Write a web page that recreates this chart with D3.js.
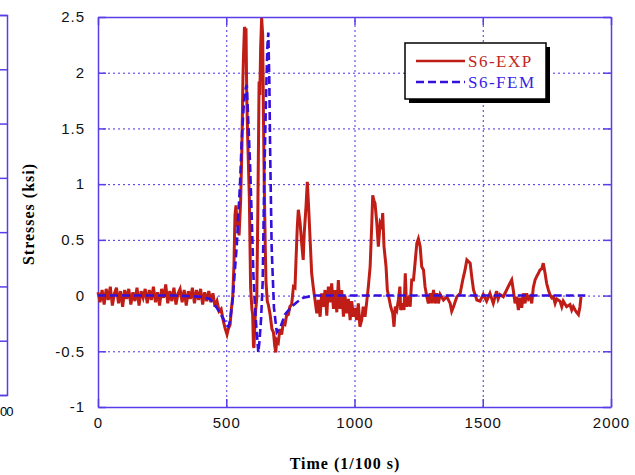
<!DOCTYPE html>
<html>
<head>
<meta charset="utf-8">
<script src="https://cdn.jsdelivr.net/npm/d3@7"></script>
<style>
  body { margin: 0; background: #fff; }
  svg { display: block; }
  .tick text { font-family: "Liberation Sans", Arial, sans-serif; font-size: 15px; letter-spacing: 1px; fill: #111; }
</style>
</head>
<body>
<svg id="chart" width="635" height="475"></svg>
<script>
// series: [time (1/100 s), stress (ksi)]
const expPoints = [
  [0,0.03],[8,-0.06],[16,0.05],[24,-0.08],[32,0.06],[40,-0.04],[48,0.08],[56,-0.09],[64,0.02],[72,0.07],
  [80,-0.07],[88,0.04],[96,-0.10],[104,0.05],[112,-0.03],[120,0.06],[128,-0.08],[136,0.03],[144,-0.05],[152,0.07],
  [160,-0.09],[168,0.04],[176,-0.02],[184,0.06],[192,-0.07],[200,0.05],[208,-0.04],[216,0.08],[224,-0.06],[232,0.03],
  [240,-0.09],[248,0.06],[256,-0.02],[264,0.10],[272,-0.07],[280,0.04],[288,-0.05],[296,0.07],[304,-0.08],[312,0.02],
  [320,0.06],[328,-0.06],[336,0.05],[344,-0.09],[352,0.04],[360,-0.03],[368,0.07],[376,-0.07],[384,0.05],[392,-0.04],
  [400,0.06],[408,-0.08],[416,0.03],[424,-0.05],[432,0.04],[440,-0.06],[448,0.02],[456,-0.10],[464,-0.05],[472,-0.14],
  [480,-0.12],[488,-0.22],[495,-0.29],[503,-0.35],[508,-0.30],[515,-0.26],[520,-0.12],[525,-0.02],[530,0.27],[534,0.72],
  [538,0.81],[542,0.62],[546,0.66],[550,0.54],[556,0.84],[561,1.32],[565,1.95],[567,2.13],[571,2.41],[575,2.38],
  [577,2.40],[580,1.77],[584,1.38],[590,0.88],[595,0.07],[600,-0.12],[603,-0.17],[606,-0.45],[608,-0.47],[611,-0.30],
  [613,-0.18],[619,-0.02],[623,0.72],[628,1.92],[631,1.80],[634,2.22],[638,2.49],[642,2.34],[645,1.62],[648,1.02],
  [652,0.45],[655,0.12],[660,-0.05],[664,-0.08],[671,-0.17],[678,-0.30],[684,-0.33],[689,-0.45],[693,-0.51],[697,-0.40],
  [703,-0.42],[709,-0.30],[716,-0.35],[722,-0.25],[729,-0.26],[735,-0.18],[742,-0.17],[748,-0.10],[755,-0.08],[762,0.08],
  [768,0.07],[772,0.32],[777,0.62],[781,0.77],[788,0.65],[794,0.47],[800,0.32],[804,0.56],[811,0.80],[816,1.02],
  [821,0.80],[827,0.50],[833,0.20],[839,0.08],[846,-0.04],[853,-0.16],[859,-0.04],[866,-0.19],[872,0.02],[879,-0.10],
  [885,0.05],[892,-0.18],[898,0.08],[905,-0.06],[911,0.11],[918,-0.12],[924,0.05],[931,-0.15],[937,0.14],[944,-0.12],
  [950,0.05],[957,-0.19],[963,0.00],[970,-0.16],[976,-0.03],[983,-0.22],[989,-0.05],[996,-0.19],[1002,-0.11],[1008,-0.22],
  [1015,-0.07],[1021,-0.28],[1028,-0.22],[1034,-0.10],[1041,-0.19],[1047,-0.07],[1054,0.08],[1061,0.26],[1067,0.62],[1071,0.90],
  [1076,0.85],[1080,0.83],[1087,0.65],[1093,0.44],[1100,0.65],[1106,0.62],[1110,0.74],[1115,0.44],[1123,0.26],[1128,0.05],
  [1136,-0.04],[1141,-0.10],[1149,-0.16],[1154,-0.28],[1159,-0.10],[1165,-0.13],[1171,-0.04],[1177,0.08],[1180,-0.13],[1188,-0.07],
  [1193,-0.13],[1198,0.20],[1203,-0.10],[1210,-0.04],[1217,-0.10],[1223,0.14],[1230,0.14],[1236,0.29],[1243,0.47],[1249,0.51],
  [1256,0.44],[1262,0.26],[1269,0.23],[1275,0.08],[1282,-0.01],[1288,-0.07],[1295,0.02],[1301,-0.07],[1308,0.05],[1314,-0.07],
  [1321,0.02],[1327,-0.07],[1334,0.01],[1347,-0.04],[1360,-0.01],[1373,-0.07],[1379,-0.14],[1386,-0.10],[1399,-0.01],[1412,0.02],
  [1422,0.14],[1431,0.23],[1438,0.32],[1451,0.29],[1457,0.17],[1464,0.05],[1470,0.01],[1477,-0.04],[1489,-0.05],[1502,0.01],
  [1515,-0.05],[1528,0.02],[1541,-0.07],[1554,0.04],[1560,-0.03],[1567,0.01],[1580,-0.01],[1593,0.05],[1606,0.11],[1613,0.14],
  [1619,0.05],[1626,-0.07],[1632,-0.01],[1639,-0.13],[1645,-0.02],[1652,-0.11],[1658,0.02],[1665,-0.07],[1671,0.02],[1678,-0.03],
  [1684,-0.01],[1691,-0.07],[1697,0.07],[1704,0.14],[1710,0.17],[1717,0.20],[1723,0.23],[1730,0.24],[1736,0.29],[1743,0.20],
  [1749,0.11],[1756,0.05],[1762,0.01],[1769,-0.02],[1775,-0.01],[1782,-0.07],[1788,-0.03],[1801,-0.05],[1808,-0.10],[1814,-0.05],
  [1827,-0.10],[1840,-0.08],[1847,-0.13],[1853,-0.10],[1860,-0.13],[1866,-0.15],[1873,-0.17],[1879,-0.10],[1883,-0.01]
];

const femPoints = [
  [0,0],[100,0],[200,0],[300,0],[400,-0.01],[437,-0.03],[463,-0.11],[489,-0.21],[502,-0.27],[509,-0.28],
  [515,-0.22],[522,-0.10],[528,0.05],[541,0.45],[554,1.02],[560,1.38],[569,1.74],[576,1.86],[580,1.89],[586,1.56],
  [593,1.17],[599,0.72],[606,0.18],[612,-0.10],[616,-0.24],[625,-0.51],[630,-0.40],[636,-0.20],[642,0.12],[648,1.02],
  [655,1.77],[660,2.22],[664,2.36],[668,1.92],[671,1.32],[677,0.43],[686,-0.11],[697,-0.33],[710,-0.29],[729,-0.17],
  [755,-0.10],[775,-0.06],[800,-0.02],[840,0],[1000,0],[1500,0],[1900,0]
];

const xTicks = [0, 500, 1000, 1500, 2000];
const yTicks = [-1, -0.5, 0, 0.5, 1, 1.5, 2, 2.5];
const seriesNames = ["S6-EXP", "S6-FEM"];

const frameColor = "#5a3de8";
const gridColor = "#4a2ee6";
const expColor = "#c01d16";
const femColor = "#3510dc";

const svg = d3.select("#chart");
const mLeft = 98, mRight = 611, mTop = 17, mBottom = 407;

const x = d3.scaleLinear().domain([0, 2000]).range([mLeft, mRight]);
const y = d3.scaleLinear().domain([-1, 2.5]).range([mBottom, mTop]);

// cropped neighbour chart on the far left edge
const yn = d3.scaleLinear().domain([0, 7]).range([395, 15]);
svg.append("g")
  .attr("transform", "translate(7,0)")
  .call(d3.axisLeft(yn).ticks(7).tickSize(8).tickFormat(""))
  .call(g => g.selectAll("path, line").attr("stroke", frameColor).attr("stroke-width", 1.5));
svg.append("text")
  .attr("x", 0).attr("y", 416)
  .style("font-family", "Liberation Sans, Arial, sans-serif")
  .style("font-size", "13px")
  .style("letter-spacing", "-1px")
  .text("00");

// dotted grid
svg.append("g")
  .attr("transform", `translate(0,${mBottom})`)
  .call(d3.axisBottom(x).tickValues(xTicks.slice(1, -1)).tickSize(-(mBottom - mTop)).tickFormat(""))
  .call(g => g.select(".domain").remove())
  .call(g => g.selectAll("line").attr("stroke", gridColor).attr("stroke-dasharray", "2,3"));
svg.append("g")
  .attr("transform", `translate(${mLeft},0)`)
  .call(d3.axisLeft(y).tickValues(yTicks.slice(1, -1)).tickSize(-(mRight - mLeft)).tickFormat(""))
  .call(g => g.select(".domain").remove())
  .call(g => g.selectAll("line").attr("stroke", gridColor).attr("stroke-dasharray", "2,3"));

// axes with inward ticks
const styleAxis = g => g.selectAll("path, line").attr("stroke", frameColor).attr("stroke-width", 1.5);
svg.append("g")
  .attr("transform", `translate(0,${mBottom})`)
  .call(d3.axisBottom(x).tickValues(xTicks).tickSize(-8).tickSizeOuter(0).tickPadding(10).tickFormat(d => String(d)))
  .call(styleAxis);
svg.append("g")
  .attr("transform", `translate(${mLeft},0)`)
  .call(d3.axisLeft(y).tickValues(yTicks).tickSize(-8).tickSizeOuter(0).tickPadding(13).tickFormat(d => String(d)))
  .call(styleAxis);
svg.append("g")
  .attr("transform", `translate(0,${mTop})`)
  .call(d3.axisTop(x).tickValues(xTicks).tickSize(-8).tickSizeOuter(0).tickFormat(""))
  .call(styleAxis);
svg.append("g")
  .attr("transform", `translate(${mRight},0)`)
  .call(d3.axisRight(y).tickValues(yTicks).tickSize(-8).tickSizeOuter(0).tickFormat(""))
  .call(styleAxis);

// series
const line = d3.line().x(d => x(d[0])).y(d => y(d[1]));
svg.append("path")
  .datum(expPoints)
  .attr("fill", "none")
  .attr("stroke", expColor)
  .attr("stroke-width", 3)
  .attr("stroke-linejoin", "miter")
  .attr("d", line);
svg.append("path")
  .datum(femPoints)
  .attr("fill", "none")
  .attr("stroke", femColor)
  .attr("stroke-width", 2.6)
  .attr("stroke-dasharray", "8,4")
  .attr("d", line);

// axis titles
svg.append("text")
  .attr("x", 345).attr("y", 469)
  .attr("text-anchor", "middle")
  .style("font-family", "Liberation Serif, Times New Roman, serif")
  .style("font-weight", "bold")
  .style("font-size", "16px")
  .style("letter-spacing", "1px")
  .text("Time (1/100 s)");
svg.append("text")
  .attr("transform", "translate(34,214) rotate(-90)")
  .attr("text-anchor", "middle")
  .style("font-family", "Liberation Serif, Times New Roman, serif")
  .style("font-weight", "bold")
  .style("font-size", "16px")
  .style("letter-spacing", "1px")
  .text("Stresses (ksi)");

// legend
const legend = svg.append("g").attr("transform", "translate(405,43)");
legend.append("rect").attr("x", 4).attr("y", 4).attr("width", 141).attr("height", 56).attr("fill", "#000");
legend.append("rect").attr("x", 0).attr("y", 0).attr("width", 141).attr("height", 56)
  .attr("fill", "#fff").attr("stroke", "#000").attr("stroke-width", 1.5);
const legendRows = [
  { name: seriesNames[0], color: expColor, textColor: "#c0261e", dash: null },
  { name: seriesNames[1], color: femColor, textColor: "#3a1ee6", dash: "8,4" }
];
legendRows.forEach((r, i) => {
  const cy = 18 + i * 21;
  legend.append("line")
    .attr("x1", 11).attr("x2", 60).attr("y1", cy).attr("y2", cy)
    .attr("stroke", r.color).attr("stroke-width", 2.6)
    .attr("stroke-dasharray", r.dash);
  legend.append("text")
    .attr("x", 63).attr("y", cy + 6)
    .attr("fill", r.textColor)
    .style("font-family", "Liberation Serif, Times New Roman, serif")
    .style("font-size", "17px")
    .style("letter-spacing", "1.5px")
    .text(r.name);
});
</script>
</body>
</html>
